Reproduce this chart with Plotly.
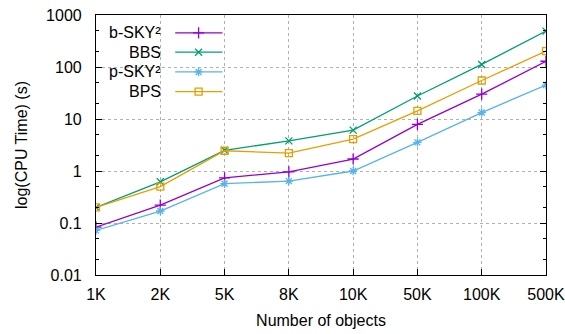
import plotly.graph_objects as go

# ── data ─────────────────────────────────────────────────────────────
objects = ["1K", "2K", "5K", "8K", "10K", "50K", "100K", "500K"]

b_sky2 = [0.083, 0.22, 0.74, 0.96, 1.7, 7.9, 30, 129]
bbs = [0.20, 0.62, 2.5, 3.8, 6.1, 27.7, 112, 490]
p_sky2 = [0.072, 0.17, 0.57, 0.64, 1.0, 3.55, 13.3, 45]
bps = [0.20, 0.50, 2.45, 2.2, 4.1, 14.3, 55, 202]

series_names = ["b-SKY²", "BBS", "p-SKY²", "BPS"]
series_values = [b_sky2, bbs, p_sky2, bps]
colors = ["#9400D3", "#009E73", "#56B4E9", "#E69F00"]
symbols = ["cross-thin-open", "x-thin-open", "asterisk-open", "square-open"]
sizes = [8, 7, 7, 7]

FONT = "Liberation Sans, Arial, sans-serif"

fig = go.Figure()

for name, vals, col, sym, sz in zip(series_names, series_values, colors, symbols, sizes):
    fig.add_trace(go.Scatter(
        x=objects, y=vals, name=name, mode="lines+markers",
        line=dict(color=col, width=1.3),
        marker=dict(symbol=sym, size=sz, color=col, line=dict(color=col, width=1.3)),
        showlegend=False,
    ))

# gnuplot-style key: label on the left, sample on the right
key_rows = [0.931, 0.857, 0.781, 0.705]
for name, col, sym, sz, ky in zip(series_names, colors, symbols, sizes, key_rows):
    fig.add_annotation(
        xref="paper", yref="paper", x=0.149, y=ky, text=name,
        showarrow=False, xanchor="right", yanchor="middle",
        font=dict(family=FONT, size=16, color="black"),
    )
    fig.add_shape(
        type="line", xref="paper", yref="paper",
        x0=0.176, x1=0.281, y0=ky, y1=ky,
        line=dict(color=col, width=1.3),
    )
    fig.add_trace(go.Scatter(
        x=[0.228], y=[ky], xaxis="x2", yaxis="y2", mode="markers",
        marker=dict(symbol=sym, size=sz, color=col, line=dict(color=col, width=1.3)),
        showlegend=False, hoverinfo="skip",
    ))

minor_vals = []
for dec in [0.01, 0.1, 1, 10, 100]:
    minor_vals += [2 * dec, 5 * dec]

fig.update_layout(
    width=565, height=334,
    margin=dict(l=96, r=19, t=15, b=59, autoexpand=False),
    paper_bgcolor="white", plot_bgcolor="white",
    font=dict(family=FONT, size=16, color="black"),
    xaxis=dict(
        type="category", range=[0, 7],
        showline=True, linecolor="black", linewidth=1.2, mirror=True,
        ticks="inside", ticklen=6, tickcolor="black",
        showgrid=True, gridcolor="#b0b0b0", griddash="dot", gridwidth=1,
        ticklabelstandoff=5,
        title=dict(text="Number of objects", standoff=12, font=dict(size=16)),
        zeroline=False,
    ),
    yaxis=dict(
        type="log", range=[-2, 3],
        tickvals=[0.01, 0.1, 1, 10, 100, 1000],
        ticktext=["0.01", "0.1", "1", "10", "100", "1000"],
        showline=True, linecolor="black", linewidth=1.2, mirror="ticks",
        ticks="inside", ticklen=6, tickcolor="black",
        minor=dict(tickvals=minor_vals, ticks="inside", ticklen=3, tickcolor="black", showgrid=False),
        showgrid=True, gridcolor="#b0b0b0", griddash="dot", gridwidth=1,
        ticklabelstandoff=10,
        title=dict(text="log(CPU Time) (s)", standoff=14, font=dict(size=16)),
        zeroline=False,
    ),
    xaxis2=dict(overlaying="x", range=[0, 1], visible=False, fixedrange=True),
    yaxis2=dict(overlaying="y", range=[0, 1], visible=False, fixedrange=True),
)

# drop the browser's default page margin so the figure sits at the corner
fig.write_html("out.html", config={"displayModeBar": False},
               post_script="document.body.style.margin='0';")
